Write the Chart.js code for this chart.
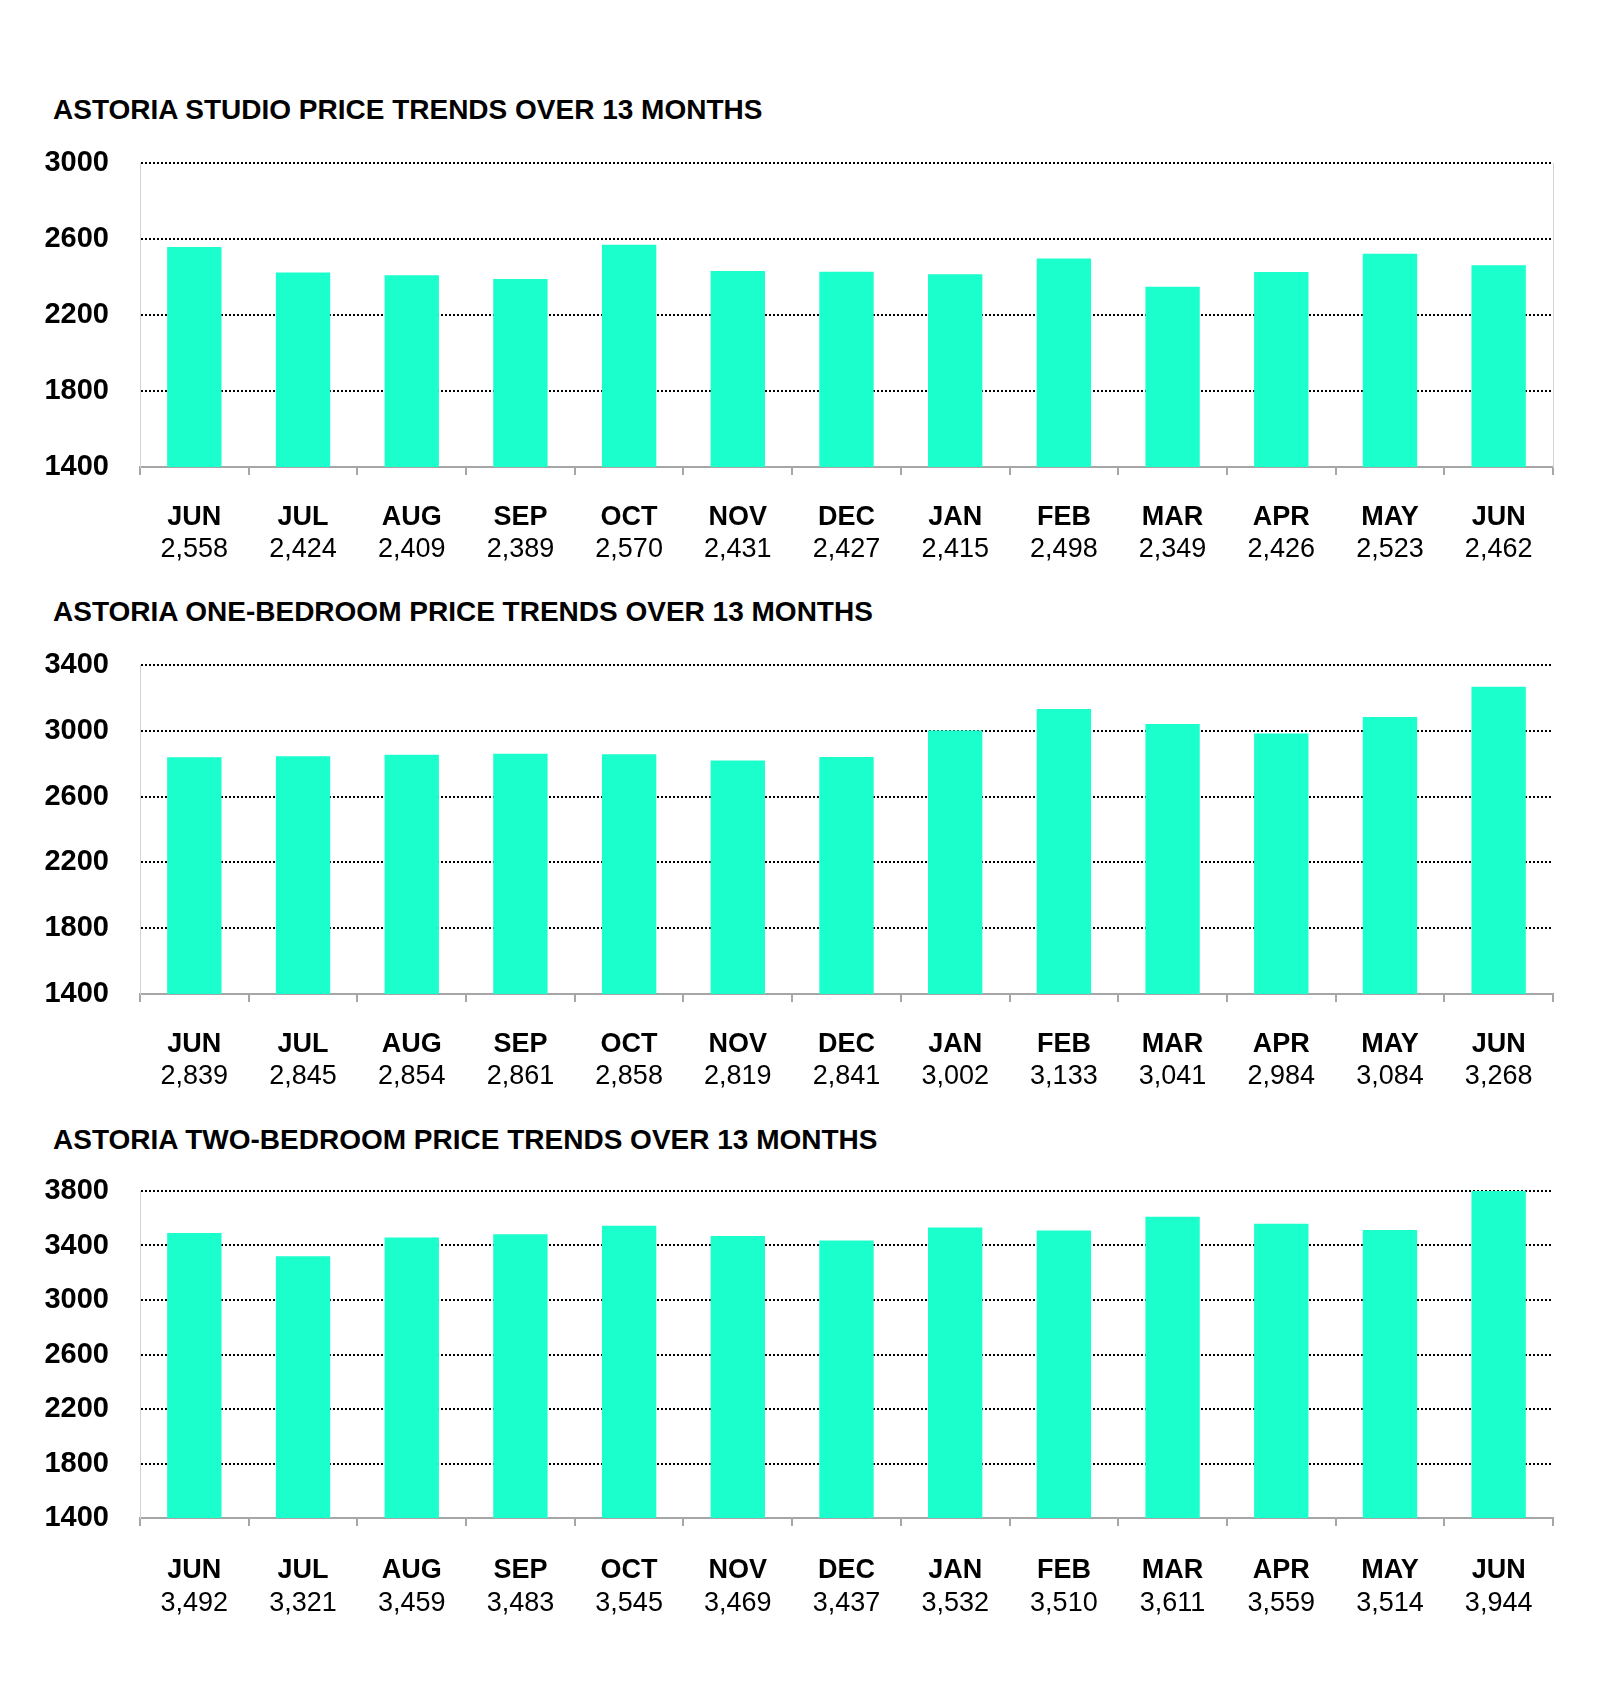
<!DOCTYPE html>
<html>
<head>
<meta charset="utf-8">
<script src="https://cdn.jsdelivr.net/npm/chart.js@4"></script>
<style>
    html, body { margin: 0; padding: 0; background: #fff; }
    body { width: 1600px; height: 1687px; position: relative; overflow: hidden; }
    canvas { position: absolute; left: 0; }
    .title {
        position: absolute;
        left: 53px;
        font: bold 28px/34px "Liberation Sans", Arial, sans-serif;
        color: #000;
        white-space: nowrap;
    }
</style>
</head>
<body>
<div class="title" style="top:93px">ASTORIA STUDIO PRICE TRENDS OVER 13 MONTHS</div>
<canvas id="studio" width="1600" height="422" style="top:143px"></canvas>
<div class="title" style="top:595px">ASTORIA ONE-BEDROOM PRICE TRENDS OVER 13 MONTHS</div>
<canvas id="oneBed" width="1600" height="446" style="top:645px"></canvas>
<div class="title" style="top:1123px">ASTORIA TWO-BEDROOM PRICE TRENDS OVER 13 MONTHS</div>
<canvas id="twoBed" width="1600" height="447" style="top:1171px"></canvas>
<script>
const months = ['JUN', 'JUL', 'AUG', 'SEP', 'OCT', 'NOV', 'DEC', 'JAN', 'FEB', 'MAR', 'APR', 'MAY', 'JUN'];

const studioPrices = [2558, 2424, 2409, 2389, 2570, 2431, 2427, 2415, 2498, 2349, 2426, 2523, 2462];
const oneBedPrices = [2839, 2845, 2854, 2861, 2858, 2819, 2841, 3002, 3133, 3041, 2984, 3084, 3268];
const twoBedPrices = [3492, 3321, 3459, 3483, 3545, 3469, 3437, 3532, 3510, 3611, 3559, 3514, 3944];

const studioTicks = [1400, 1800, 2200, 2600, 3000];
const oneBedTicks = [1400, 1800, 2200, 2600, 3000, 3400];
const twoBedTicks = [1400, 1800, 2200, 2600, 3000, 3400, 3800];

const barColor = '#1affcc';
const axisGray = '#a6a6a6';
const lightGray = '#d4d4d4';

Chart.defaults.font.family = '"Liberation Sans", Arial, sans-serif';
Chart.defaults.color = '#000';

function makeChart(id, values, ticks, opts) {
    const valueLabels = values.map(v => v.toLocaleString('en-US'));
    const scales = {
        x: {
            type: 'category',
            position: 'bottom',
            weight: 0,
            offset: true,
            grid: {
                offset: true,
                drawOnChartArea: false,
                drawTicks: true,
                tickLength: 8,
                color: axisGray,
                lineWidth: 2
            },
            border: { color: axisGray, width: 2 },
            ticks: {
                font: { size: 27, weight: 'bold', lineHeight: 1 },
                padding: opts.monthPad,
                maxRotation: 0,
                autoSkip: false
            },
            afterFit(scale) { scale.height = 8 + opts.monthPad + 27; }
        },
        // second row of labels under the months: the prices
        x2: {
            type: 'category',
            labels: valueLabels,
            position: 'bottom',
            weight: 1,
            offset: true,
            grid: { display: false, drawTicks: false },
            border: { display: false },
            ticks: {
                font: { size: 27, lineHeight: 1 },
                padding: opts.valuePad,
                maxRotation: 0,
                autoSkip: false
            },
            afterFit(scale) { scale.height = opts.valuePad + 27; }
        },
        y: {
            min: ticks[0],
            max: ticks[ticks.length - 1],
            afterBuildTicks(scale) {
                scale.ticks = ticks.map(v => ({ value: v }));
            },
            grid: {
                drawTicks: false,
                color: ctx => (ctx.tick && ctx.tick.value === ticks[0]) ? 'rgba(0,0,0,0)' : '#000',
                lineWidth: 2
            },
            border: { color: lightGray, width: 1, dash: [2, 2] },
            ticks: {
                font: { size: 29, weight: 'bold' },
                padding: 31,
                callback: value => String(value)
            },
            afterFit(scale) {
                scale.width = 110;
                scale.paddingTop = 0;
                scale.paddingBottom = 0;
            }
        }
    };
    if (opts.rightBorder) {
        scales.y2 = {
            position: 'right',
            min: ticks[0],
            max: ticks[ticks.length - 1],
            grid: { drawOnChartArea: false, drawTicks: false },
            border: { color: lightGray, width: 1 },
            ticks: { display: false },
            afterFit(scale) {
                scale.width = 0;
                scale.paddingTop = 0;
                scale.paddingBottom = 0;
            }
        };
    }

    return new Chart(document.getElementById(id), {
        type: 'bar',
        data: {
            labels: months,
            datasets: [{
                data: values,
                backgroundColor: barColor,
                borderWidth: 0,
                barPercentage: 0.5,
                categoryPercentage: 1.0,
                xAxisID: 'x',
                yAxisID: 'y'
            }]
        },
        options: {
            responsive: false,
            animation: false,
            layout: { padding: { left: 30, right: 47, top: 20, bottom: opts.padBottom } },
            plugins: {
                legend: { display: false },
                tooltip: { enabled: false }
            },
            scales
        }
    });
}

makeChart('studio', studioPrices, studioTicks, {
    monthPad: 29.5, valuePad: 5, padBottom: 1.5, rightBorder: true
});
makeChart('oneBed', oneBedPrices, oneBedTicks, {
    monthPad: 29.5, valuePad: 5, padBottom: 0.5, rightBorder: false
});
makeChart('twoBed', twoBedPrices, twoBedTicks, {
    monthPad: 31.5, valuePad: 6, padBottom: 0.5, rightBorder: false
});
</script>
</body>
</html>
